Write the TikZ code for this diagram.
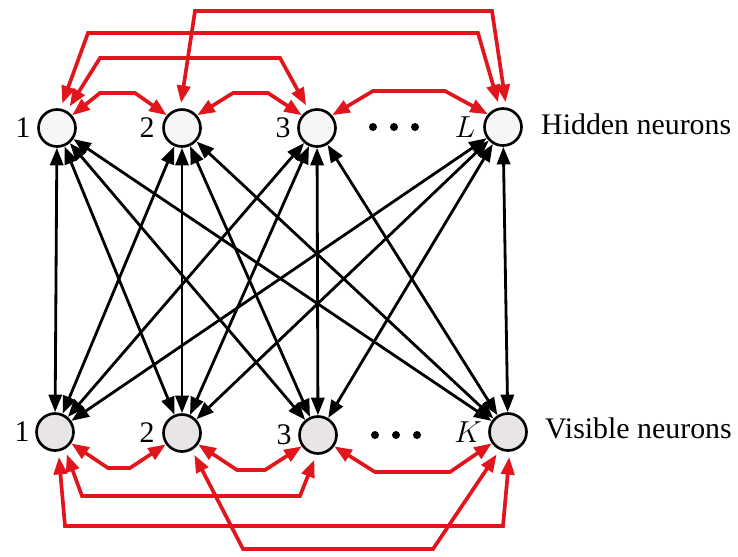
\documentclass[tikz,border=0pt]{standalone}
\usepackage{fontspec}
\setmainfont{Liberation Serif}
\usetikzlibrary{arrows.meta}
\definecolor{linkred}{RGB}{224,22,28}
\definecolor{hidfill}{RGB}{247,245,245}
\definecolor{visfill}{RGB}{232,228,231}

\begin{document}
\begin{tikzpicture}[x=0.2mm,y=-0.2mm,every node/.style={font=\fontsize{17}{20}\selectfont},
  neuron/.style={circle,draw,line width=1.5pt,minimum size=7.4mm,inner sep=0pt},
  bond/.style={line width=1.6pt,{Triangle[length=10pt,width=7.5pt]}-{Triangle[length=10pt,width=7.5pt]}},
  redbond/.style={bond,color=linkred,line width=2.1pt},
  farbond/.style={redbond,shorten <=3pt,shorten >=3pt}]
\useasboundingbox (0,0) rectangle (738,556);
% hidden layer
\node[neuron,fill=hidfill] (H1) at (57,128) {};
\node[neuron,fill=hidfill] (H2) at (182,128) {};
\node[neuron,fill=hidfill] (H3) at (317,128) {};
\node[neuron,fill=hidfill] (HL) at (503,127) {};
% visible layer
\node[neuron,fill=visfill] (V1) at (55,432) {};
\node[neuron,fill=visfill] (V2) at (182,433) {};
\node[neuron,fill=visfill] (V3) at (318,435) {};
\node[neuron,fill=visfill] (VK) at (508,432) {};
% indices
\node (h1n) at (23,128) {1};
\node (h2n) at (147,128) {2};
\node (h3n) at (283,128) {3};
\node (hLn) at (465,127) {$L$};
\node (v1n) at (22,432) {1};
\node (v2n) at (147,433) {2};
\node (v3n) at (284,435) {3};
\node (vKn) at (468,432) {$K$};
\node[anchor=west] (hidtxt) at (535,124) {Hidden neurons};
\node[anchor=west] (vistxt) at (539,428) {Visible neurons};
\fill (373,127) circle (4);\fill (394,127) circle (4);\fill (415,127) circle (4);
\fill (375,435) circle (4);\fill (396,435) circle (4);\fill (417,435) circle (4);
% hidden <-> visible
\draw[bond] (H1)--(V1);
\draw[bond] (H1)--(V2);
\draw[bond] (H1)--(V3);
\draw[bond] (H1)--(VK);
\draw[bond] (H2)--(V1);
\draw[bond] (H2)--(V2);
\draw[bond] (H2)--(V3);
\draw[bond] (H2)--(VK);
\draw[bond] (H3)--(V1);
\draw[bond] (H3)--(V2);
\draw[bond] (H3)--(V3);
\draw[bond] (H3)--(VK);
\draw[bond] (HL)--(V1);
\draw[bond] (HL)--(V2);
\draw[bond] (HL)--(V3);
\draw[bond] (HL)--(VK);
% hidden <-> hidden
\draw[redbond] (H1.40) -- (100,93) -- (135,93) -- (H2.140);
\draw[redbond] (H2.40) -- (233,93) -- (268,93) -- (H3.140);
\draw[redbond] (H3.40) -- (373,91) -- (445,91) -- (HL.140);
\draw[farbond] (H1.60) -- (100,58) -- (280,58) -- (H3.115);
\draw[farbond] (H1.80) -- (88,33) -- (478,33) -- (HL.100);
\draw[farbond] (H2.95) -- (195,11) -- (492,11) -- (HL.80);
% visible <-> visible
\draw[redbond] (V1.-35) -- (108,468) -- (130,468) -- (V2.-145);
\draw[redbond] (V2.-35) -- (237,470) -- (265,470) -- (V3.-145);
\draw[redbond] (V3.-35) -- (375,472) -- (450,472) -- (VK.-145);
\draw[farbond] (V1.-60) -- (82,496) -- (300,496) -- (V3.-95);
\draw[farbond] (V1.-80) -- (65,526) -- (503,526) -- (VK.-85);
\draw[farbond] (V2.-60) -- (243,549) -- (433,549) -- (VK.-115);
\end{tikzpicture}
\end{document}
